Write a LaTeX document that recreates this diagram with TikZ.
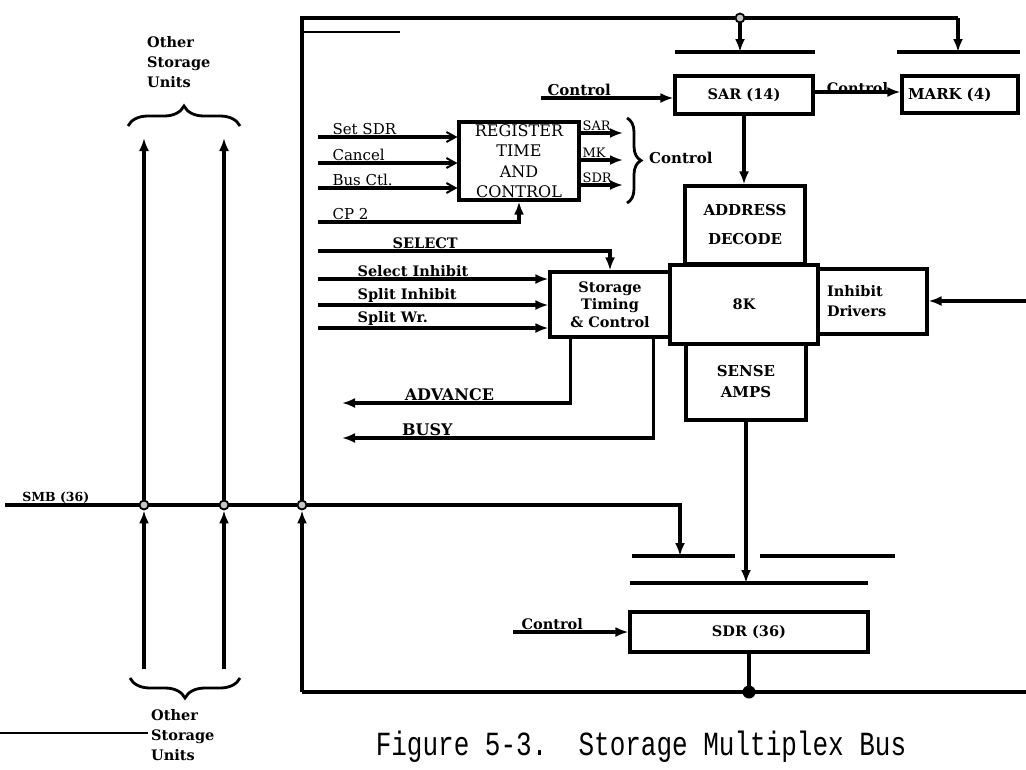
\documentclass[tikz,border=0pt]{standalone}
\usepackage{fontspec}
\setmainfont{DejaVu Serif}
\newfontfamily\typefont{Liberation Mono}
\usetikzlibrary{arrows.meta,decorations.pathreplacing}

\begin{document}
\begin{tikzpicture}[x=1pt,y=-1pt,>={Latex[length=13pt,width=10pt]}]
\tikzstyle{box} = [rectangle, draw, line width=3.1pt, inner sep=0pt, align=center, font=\fontsize{14.5}{17}\selectfont\bfseries]
\tikzstyle{wire} = [line width=3.1pt]
\tikzstyle{arrow} = [wire,->]
\tikzstyle{inarrow} = [wire,-{Straight Barb[length=9pt,width=10pt,line width=2pt]}]
\tikzstyle{lbl} = [inner sep=1pt, font=\fontsize{14.5}{16}\selectfont\bfseries]
\tikzstyle{plain} = [inner sep=1pt, font=\fontsize{15}{17}\selectfont]
\tikzstyle{brace} = [line width=2.8pt, decorate, decoration={brace,amplitude=20pt,aspect=0.5}]
\tikzstyle{junction} = [circle, draw, fill=gray!45, line width=1.8pt, minimum size=9pt, inner sep=0pt]
\tikzstyle{dot} = [circle, fill, minimum size=13pt, inner sep=0pt]

\useasboundingbox (0,0) rectangle (1026,769);

\node (sar) [box, minimum width=138pt, minimum height=38pt] at (744,95) {SAR (14)};
\node (mark) [box, minimum width=116pt, minimum height=37pt, text width=104pt, inner xsep=6pt, align=left, font=\fontsize{15}{17}\selectfont\bfseries] at (960,94.5) {MARK (4)};
\node (reg) [box, minimum width=120pt, minimum height=78pt, font=\fontsize{16}{20.5}\selectfont] at (519,161) {REGISTER\\TIME\\AND\\CONTROL};
\node (addr) [box, minimum width=120pt, minimum height=78pt, font=\fontsize{15}{29}\selectfont\bfseries] at (745,225) {ADDRESS\\DECODE};
\node (core) [box, minimum width=148pt, minimum height=79pt] at (744,304.5) {8K};
\node (sense) [box, minimum width=120pt, minimum height=76pt, font=\fontsize{15}{21}\selectfont\bfseries] at (746,382) {SENSE\\AMPS};
\node (inhib) [box, minimum width=109pt, minimum height=65pt, text width=91pt, inner xsep=9pt, align=left, font=\fontsize{14.5}{20}\selectfont\bfseries] at (872.5,301.5) {Inhibit\\Drivers};
\node (stc) [box, minimum width=120pt, minimum height=65pt, font=\fontsize{14.5}{17.5}\selectfont\bfseries] at (610,304.5) {Storage\\Timing\\\& Control};
\node (sdr) [box, minimum width=238pt, minimum height=40pt] at (749,632) {SDR (36)};

\node (otop) [lbl, font=\fontsize{14.5}{20}\selectfont\bfseries, align=left, anchor=north west] at (146,35) {Other\\Storage\\Units};
\node (obot) [lbl, font=\fontsize{14.5}{20}\selectfont\bfseries, align=left, anchor=north west] at (150,708) {Other\\Storage\\Units};

% bus and frame
\node (jtop) [junction] at (740,18) {};
\node (smb1) [junction] at (144,505) {};
\node (smb2) [junction] at (224,505) {};
\node (smb3) [junction] at (302,505) {};
\coordinate (topL) at (302,18);
\coordinate (topR) at (958,18);
\coordinate (botL) at (302,692);
\coordinate (botR) at (1026,692);
\coordinate (smbL) at (5,505);
\coordinate (smbdrop) at (680,505);

\coordinate (sarbar-l) at (675,52);
\coordinate (sarbar-r) at (815,52);
\coordinate (markbar-l) at (897,52);
\coordinate (markbar-r) at (1020,52);
\coordinate (smbbar-l) at (632,556);
\coordinate (smbbar-r) at (735,556);
\coordinate (gapbar-l) at (760,556);
\coordinate (gapbar-r) at (895,556);
\coordinate (lowbar-l) at (630,583);
\coordinate (lowbar-r) at (868,583);
\foreach \b in {sarbar, markbar, smbbar, gapbar, lowbar}
  \draw [wire] (\b-l) -- (\b-r);

\draw [wire] (smb3) -- (topL) -- (jtop) -- (topR);
\draw [arrow] (topR) -- (topR |- markbar-l);
\draw [arrow] (jtop) -- (jtop |- sarbar-l);
\draw [line width=1.8pt] (302,32) -- (400,32);
\draw [arrow] (botL) -- (smb3);
\draw [wire] (botL) -- (botR);

\draw [wire] (smbL) -- node [lbl, above, pos=0.38, inner sep=0.5pt, font=\fontsize{12.5}{14}\selectfont\bfseries] {SMB (36)} (smb1);
\draw [wire] (smb1) -- (smb2);
\draw [wire] (smb2) -- (smb3);
\draw [arrow] (smb3) -- (smbdrop) -- (smbdrop |- smbbar-l);

\foreach \i/\x in {1/144, 2/224} {
  \coordinate (up\i) at (\x,138);
  \coordinate (dn\i) at (\x,669);
  \draw [arrow] (dn\i) -- (smb\i);
  \draw [arrow] (smb\i) -- (up\i);
}
\draw [brace] (128,126) -- (240,126);
\draw [brace] (240,678) -- (130,678);

% register time and control
\foreach \y/\n/\t in {137/setsdr/Set SDR, 163/cancel/Cancel, 188/busctl/Bus Ctl.} {
  \coordinate (\n) at (318,\y);
  \draw [inarrow] (\n) -- node [plain, pos=0, anchor=south west, xshift=12pt] {\t} (\n -| reg.west);
}
\coordinate (cp2) at (318,222);
\draw [arrow] (cp2) -| node [plain, pos=0, anchor=south west, xshift=12pt] {CP 2} (reg.south);
\foreach \y/\n/\t in {133/osar/SAR, 160/omk/MK, 185/osdr/SDR} {
  \coordinate (\n) at (623,\y);
  \draw [arrow] (\n -| reg.east) -- node [plain, pos=0, anchor=south west, inner sep=0.5pt, font=\fontsize{13}{15}\selectfont] {\t} (\n);
}
\draw [brace, decoration={amplitude=14pt}] (627,118) -- (627,203);
\node (ctlreg) [lbl, font=\fontsize{15}{17}\selectfont\bfseries, anchor=west] at (648,158) {Control};

% SAR and MARK
\coordinate (ctlsar) at (541,98);
\draw [arrow] (ctlsar) -- node [lbl, pos=0, anchor=south west, xshift=4pt, font=\fontsize{15}{17}\selectfont\bfseries] {Control} (ctlsar -| sar.west);
\draw [arrow] ([yshift=3pt]sar.east) -- node [lbl, above, inner sep=0pt, yshift=-3pt] {Control} ([yshift=3pt]sar.east -| mark.west);
\draw [arrow] (sar.south) -- (sar.south |- addr.north);

% storage timing
\coordinate (sel) at (318,251);
\draw [arrow] (sel) -| node [lbl, pos=0, anchor=south west, xshift=72pt] {SELECT} (stc.north);
\foreach \y/\n/\t in {279/selinh/Select Inhibit, 305/splinh/Split Inhibit, 328/splwr/Split Wr.} {
  \coordinate (\n) at (318,\y);
  \draw [arrow] (\n) -- node [lbl, pos=0, anchor=south west, xshift=37pt] {\t} (\n -| stc.west);
}
\coordinate (adv) at (342,403);
\coordinate (busy) at (342,438);
\draw [arrow] ([xshift=22pt]stc.south west) |- node [lbl, pos=0.765, above, font=\fontsize{16}{18}\selectfont\bfseries] {ADVANCE} (adv);
\draw [arrow] ([xshift=-18pt]stc.south east) |- node [lbl, pos=0.863, above, font=\fontsize{16}{18}\selectfont\bfseries] {BUSY} (busy);

\coordinate (inhin) at (1026,301);
\draw [arrow] (inhin) -- (inhin -| inhib.east);
\draw [arrow] (sense.south) -- (sense.south |- lowbar-l);

% SDR
\coordinate (ctlsdr) at (513,632);
\draw [arrow] (ctlsdr) -- node [lbl, pos=0, anchor=south west, xshift=6pt] {Control} (sdr.west);
\draw [wire] (sdr.south) -- (sdr.south |- botR) node [dot] {};

\draw [line width=1.5pt] (0,733) -- (148,733);
\node (caption) [font=\typefont\fontsize{26}{26}\selectfont] at (641,747) {\scalebox{1}[1.3]{Figure 5-3.\ \ Storage Multiplex Bus}};

\end{tikzpicture}
\end{document}
